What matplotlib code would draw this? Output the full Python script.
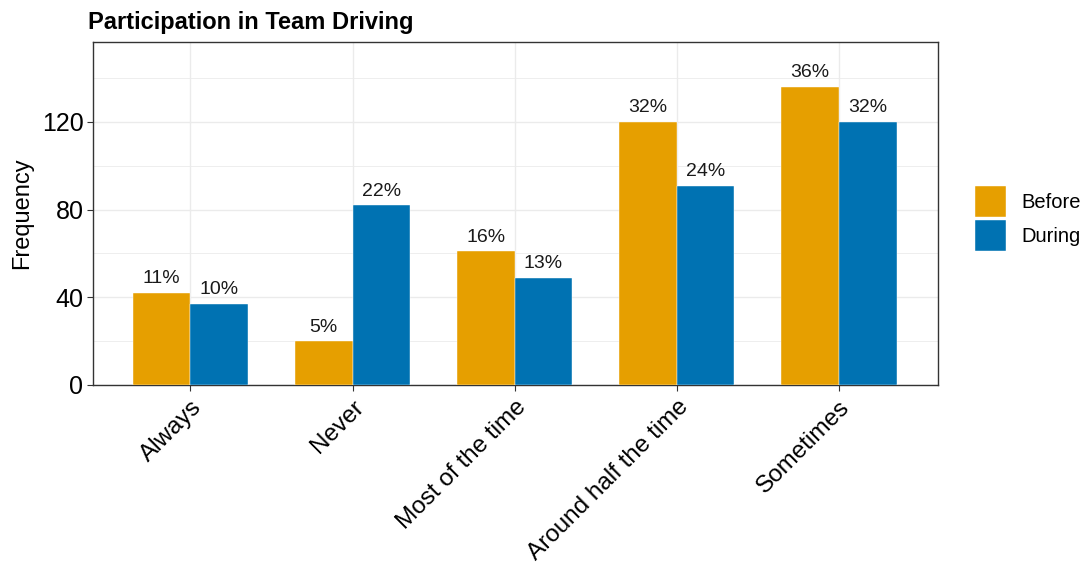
import matplotlib.pyplot as plt
import numpy as np

plt.rcParams['font.family'] = ['Liberation Sans', 'DejaVu Sans']

categories = ['Always', 'Never', 'Most of the time', 'Around half the time', 'Sometimes']
before = [42, 20, 61, 120, 136]
during = [37, 82, 49, 91, 120]
series_names = ['Before', 'During']
colors = ['#E69F00', '#0072B2']

fig = plt.figure(figsize=(10.83, 5.69), dpi=100)
ax = fig.add_axes([0.086, 0.3234, 0.780, 0.6028])

x = np.arange(len(categories))
w = 0.355
for i, (vals, name) in enumerate(zip([before, during], series_names)):
    total = sum(vals)
    pos = x - w / 2 + i * w
    ax.bar(pos, vals, width=w, color=colors[i], label=name, zorder=3,
           edgecolor='white', linewidth=0.3)
    for p, v in zip(pos, vals):
        ax.annotate(f'{round(100 * v / total)}%', (p, v), xytext=(0, 4),
                    textcoords='offset points', ha='center', va='bottom',
                    fontsize=14, color='#1a1a1a')

ax.set_xlim(-0.6, 4.61)
ax.set_ylim(0, 156.5)
ax.set_yticks([0, 40, 80, 120])
ax.set_yticks([20, 60, 100, 140], minor=True)
ax.set_xticks(x)
ax.set_xticklabels(categories, rotation=45, ha='right', rotation_mode='anchor',
                   fontsize=17.5)
ax.tick_params(axis='y', labelsize=18, pad=3)
ax.tick_params(axis='x', pad=4)
ax.tick_params(axis='both', which='major', length=4, color='#333333', width=0.8)
ax.tick_params(axis='y', which='minor', length=0)
ax.grid(True, which='major', color='#EBEBEB', linewidth=1.0, zorder=0)
ax.grid(True, which='minor', axis='y', color='#EBEBEB', linewidth=0.6, zorder=0)
ax.set_axisbelow(True)
for s in ax.spines.values():
    s.set_color('#333333')
    s.set_linewidth(1.0)

ax.set_ylabel('Frequency', fontsize=17, labelpad=6)
ax.set_title('Participation in Team Driving', fontsize=17, fontweight='bold',
             loc='left', x=-0.006, pad=9)

ax.legend(loc='center left', bbox_to_anchor=(1.022, 0.485), frameon=False,
          fontsize=14.5, handlelength=1.55, handleheight=1.97, handletextpad=0.75,
          labelspacing=0.15)

fig.savefig('out.png', dpi=100)
